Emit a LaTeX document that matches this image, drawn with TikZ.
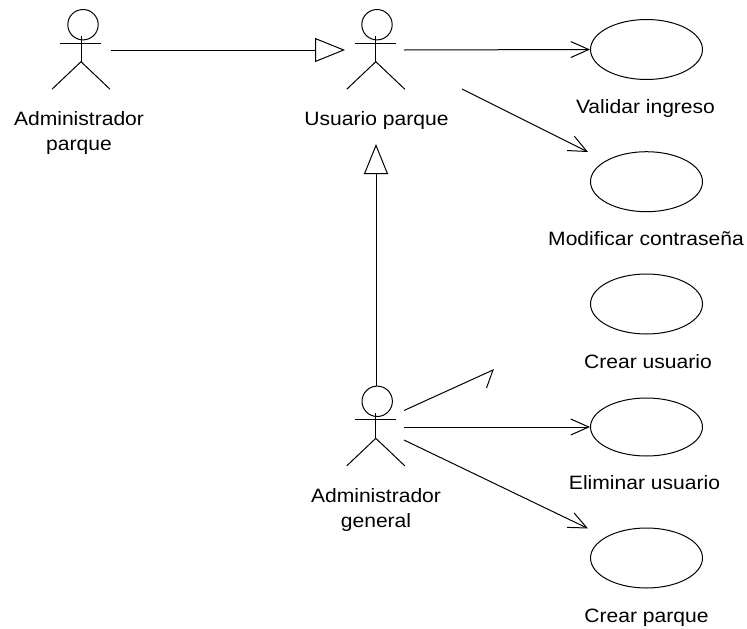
\documentclass[tikz,border=0pt]{standalone}
\usepackage{fontspec}
\setmainfont[FakeStretch=1.09]{Liberation Sans}
\usetikzlibrary{shapes.geometric,arrows.meta}
\tikzset{
  usecase/.style={draw,ellipse,inner sep=0pt,minimum width=84pt,minimum height=45pt,line width=.75pt},
  lbl/.style={anchor=base,inner sep=0pt,align=center,font=\fontsize{14.5}{18.75}\selectfont},
  conn/.style={line width=.75pt},
  gen/.style={conn,-{Triangle[open,length=22.5pt,width=18pt,line width=.75pt]}},
  assoc/.style={conn,-{Straight Barb[length=13.5pt,width=12pt,line width=.75pt]}},
  head/.style={draw,circle,inner sep=0pt,minimum size=22.8pt,line width=.75pt},
  limb/.style={line width=.75pt}
}
\newcommand{\actor}[4]{% name, head x, body x, head y
  \node[head] (#1) at (#2,#4) {};
  \draw[limb] (#3-21,#4+18.5) -- (#3+20,#4+18.5);
  \draw[limb] (#3,#4+11.5) -- (#3,#4+37);
  \draw[limb] (#3-29,#4+64.5) -- (#3,#4+37) -- (#3+29,#4+64.5);
}
\begin{document}
\begin{tikzpicture}[x=.75pt,y=-.75pt]
\useasboundingbox (0,0) rectangle (747,629);
\actor{ap}{83}{81}{24.7}
\actor{up}{377}{375.8}{24.7}
\actor{ag}{377.2}{375.8}{401.3}
\node[usecase] (e1) at (646.5,49.5) {};
\node[usecase] (e2) at (646.5,181.7) {};
\node[usecase] (e3) at (646.5,304) {};
\node[usecase,minimum height=43.5pt] (e4) at (646.5,427) {};
\node[usecase] (e5) at (646.5,558) {};
\node[lbl] (lap) at (79,150) {Administrador\\parque};
\node[lbl] (lup) at (376.5,125) {Usuario parque};
\node[lbl] (lag) at (376,527) {Administrador\\general};
\node[lbl] (l1) at (645.5,113) {Validar ingreso};
\node[lbl] (l2) at (646,245) {Modificar contraseña};
\node[lbl] (l3) at (648,368) {Crear usuario};
\node[lbl] (l4) at (644.5,489) {Eliminar usuario};
\node[lbl] (l5) at (646.5,622) {Crear parque};
\coordinate (s1) at (111,50);
\coordinate (t1) at (345,50);
\coordinate (s2) at (404,50);
\coordinate (s3) at (462,89);
\coordinate (t3) at (588,152);
\coordinate (t4) at (376,144);
\coordinate (s5) at (404,410.5);
\coordinate (t5) at (493,370);
\coordinate (b5) at (486.5,388);
\coordinate (s6) at (404,427);
\coordinate (s7) at (404,440);
\coordinate (t7) at (588,528.5);
\draw[gen] (s1) -- (t1);
\draw[assoc] (s2) -- (e1.west);
\draw[assoc] (s3) -- (t3);
\draw[gen] (ag.north -| t4) -- (t4);
\draw[conn] (s5) -- (t5) -- (b5);
\draw[assoc] (s6) -- (e4.west);
\draw[assoc] (s7) -- (t7);
\end{tikzpicture}
\end{document}
